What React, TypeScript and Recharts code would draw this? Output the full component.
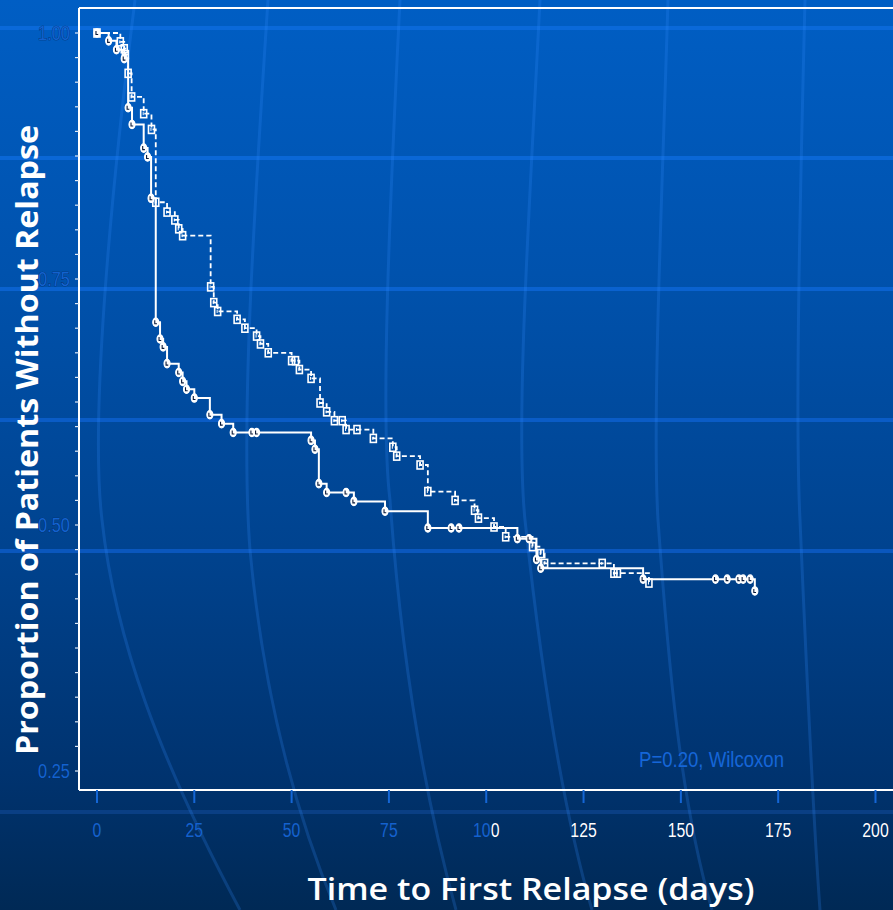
import React from 'react';
import { LineChart, Line, XAxis, YAxis, ReferenceLine, Customized } from 'recharts';

// ---- Data ----
const solidTimes = [0, 3, 5, 7, 8, 9, 12, 13, 13.9, 15.1, 16.2, 17, 18, 21, 22, 23, 25, 29, 32, 35, 39.8, 41, 55, 56, 57, 59, 64, 66, 74, 85, 91, 93, 108, 111, 112.9, 114, 140.3, 158.9, 161.9, 164.9, 166, 167.8, 169];
const solidSurv = [1.0, 0.992, 0.983, 0.974, 0.924, 0.907, 0.883, 0.874, 0.832, 0.706, 0.689, 0.681, 0.664, 0.655, 0.646, 0.638, 0.629, 0.612, 0.603, 0.594, 0.594, 0.594, 0.586, 0.577, 0.542, 0.533, 0.533, 0.524, 0.514, 0.497, 0.497, 0.497, 0.486, 0.486, 0.465, 0.456, 0.445, 0.445, 0.445, 0.445, 0.445, 0.445, 0.433];

const dashedTimes = [0, 6, 7, 7.3, 8, 8.9, 12, 14, 15.1, 18, 20, 21, 22, 29.2, 30, 31, 36, 38, 41, 42, 44, 50, 51, 52, 55, 57.3, 59, 61, 63, 64, 66.8, 71, 76, 77, 83, 85, 92, 97, 98, 102, 105, 111.9, 114, 115, 129.8, 132.8, 133.7, 141.8];
const dashedSurv = [1.0, 0.991, 0.984, 0.978, 0.959, 0.935, 0.918, 0.902, 0.828, 0.818, 0.81, 0.801, 0.794, 0.742, 0.726, 0.717, 0.709, 0.7, 0.692, 0.684, 0.675, 0.667, 0.667, 0.658, 0.649, 0.624, 0.615, 0.606, 0.606, 0.597, 0.597, 0.588, 0.579, 0.57, 0.561, 0.534, 0.525, 0.515, 0.507, 0.498, 0.488, 0.478, 0.471, 0.461, 0.461, 0.451, 0.451, 0.441];

const xTicks = [0, 25, 50, 75, 100, 125, 150, 175, 200];
const yLabelTicks = [0.25, 0.5, 0.75, 1.0];
const yMinorTicks = Array.from({ length: 31 }, (_, i) => Math.round((0.25 + i * 0.025) * 1000) / 1000);

const xTitle = 'Time to First Relapse (days)';
const yTitle = 'Proportion of Patients Without Relapse';
const pText = 'P=0.20, Wilcoxon';

const X_DOMAIN: [number, number] = [-4.62, 204.5];
const Y_DOMAIN: [number, number] = [0.2307, 1.0254];

const solidData = solidTimes.map((t, i) => ({ t, s: solidSurv[i] }));
const dashedData = dashedTimes.map((t, i) => ({ t, s: dashedSurv[i] }));

const W = 893;
const H = 910;
const NARROW = "'Liberation Sans', Arial, sans-serif";
const TITLE_FONT = "'Open Sans', Lato, sans-serif";

const numLen = (s: string) => {
  let w = 0;
  for (const ch of s) w += ch === '.' ? 5.5 : 8.8;
  return w;
};

const CircleDot = (props: any) => {
  const { cx, cy, index } = props;
  if (cx == null || cy == null) return <g key={`c-${index}`} />;
  return (
    <g key={`c-${index}`}>
      <ellipse cx={cx} cy={cy} rx={3} ry={4.2} fill="#ffffff" stroke="#ffffff" strokeWidth={1.2} />
      <path d={`M${cx - 1},${cy - 2} L${cx - 1},${cy + 1.5} L${cx + 1.2},${cy + 1.5}`} stroke="#0a1a3a" strokeWidth={1.1} fill="none" />
    </g>
  );
};

const SquareDot = (props: any) => {
  const { cx, cy, index } = props;
  if (cx == null || cy == null) return <g key={`s-${index}`} />;
  return (
    <g key={`s-${index}`}>
      <rect x={cx - 3} y={cy - 4} width={6} height={8} fill="none" stroke="#ffffff" strokeWidth={1.6} />
      <path d={`M${cx - 0.5},${cy - 1.5} L${cx - 0.5},${cy + 1.5}`} stroke="#ffffff" strokeWidth={1} />
    </g>
  );
};

const XTick = (props: any) => {
  const { x, y, payload } = props;
  const s = String(payload.value);
  return (
    <text x={x} y={y} dy="0.71em" textAnchor="middle" fontFamily={NARROW} fontSize={20}
      textLength={numLen(s)} lengthAdjust="spacingAndGlyphs"
      fill="url(#xTickGrad)" stroke="#0b2a55" strokeWidth={0.7} paintOrder="stroke">
      {s}
    </text>
  );
};

const YTick = (props: any) => {
  const { x, y, payload } = props;
  const v = payload.value;
  const show = yLabelTicks.some((t) => Math.abs(t - v) < 1e-6);
  if (!show) return <g />;
  const s = v.toFixed(2);
  return (
    <text x={x} y={y} dy="0.36em" textAnchor="end" fontFamily={NARROW} fontSize={20}
      textLength={numLen(s)} lengthAdjust="spacingAndGlyphs"
      fill="#1262cf" stroke="#072b5e" strokeWidth={0.7} paintOrder="stroke">
      {s}
    </text>
  );
};

const Decorations = () => (
  <g>
    <defs>
      <linearGradient id="xTickGrad" gradientUnits="userSpaceOnUse" x1={0} y1={0} x2={W} y2={0}>
        <stop offset="0.549" stopColor="#1262cf" />
        <stop offset="0.551" stopColor="#ffffff" />
      </linearGradient>
    </defs>
    <text x={639} y={767} fontFamily={NARROW} fontSize={22} textLength={145} lengthAdjust="spacingAndGlyphs"
      fill="#1466d8" stroke="#0b3572" strokeWidth={0.6} paintOrder="stroke">
      {pText}
    </text>
    <text x={531} y={900} textAnchor="middle" fontFamily={TITLE_FONT} fontWeight={600} fontSize={30}
      textLength={447} lengthAdjust="spacingAndGlyphs" fill="#ffffff">
      {xTitle}
    </text>
    <text x={38} y={440} textAnchor="middle" transform="rotate(-90 38 440)" fontFamily={TITLE_FONT} fontWeight={700} fontSize={31}
      textLength={630} lengthAdjust="spacingAndGlyphs" fill="#ffffff">
      {yTitle}
    </text>
  </g>
);

const hLines = [
  { y: 28, c: '#0a69d9' },
  { y: 158, c: '#0a67d6' },
  { y: 289, c: '#0a62cf' },
  { y: 420, c: '#0a5cc6' },
  { y: 551, c: '#0a57bd' },
  { y: 812, c: '#0a3f84' },
];

const curves = [
  'M135,0 C110,200 90,420 102,520 C115,640 160,760 240,910',
  'M268,0 C255,200 240,420 250,550 C262,680 290,800 336,910',
  'M400,0 C390,200 380,420 390,500 C400,640 420,780 456,910',
  'M540,0 C530,200 515,420 525,520 C540,660 560,800 592,910',
  'M668,0 C662,200 652,420 658,520 C668,660 680,800 712,910',
  'M805,0 C800,200 795,420 800,520 C806,660 812,800 820,910',
];

export default function App() {
  return (
    <div style={{ position: 'fixed', left: 0, top: 0, width: W, height: H, overflow: 'hidden',
      background: 'linear-gradient(to bottom, #005ec4 0%, #0052ad 30%, #00438f 60%, #00336f 85%, #002955 100%)' }}>
      <svg width={W} height={H} style={{ position: 'absolute', left: 0, top: 0 }}>
        {hLines.map((l) => (
          <rect key={l.y} x={0} y={l.y - 2} width={W} height={4} fill={l.c} />
        ))}
        {curves.map((d, i) => (
          <path key={i} d={d} fill="none" stroke="rgba(50,140,255,0.22)" strokeWidth={3} />
        ))}
      </svg>
      <div style={{ position: 'absolute', left: 0, top: 0 }}>
        <LineChart width={W} height={H} margin={{ top: 8, right: 0, bottom: 0, left: 0 }}>
          <XAxis type="number" dataKey="t" domain={X_DOMAIN} ticks={xTicks} allowDataOverflow
            height={120} axisLine={{ stroke: '#ffffff', strokeWidth: 2 }}
            tickLine={{ stroke: '#1466d6', strokeWidth: 2 }} tickSize={13} tickMargin={20} tick={<XTick />} interval={0} />
          <YAxis type="number" dataKey="s" domain={Y_DOMAIN} ticks={yMinorTicks} allowDataOverflow
            width={79} axisLine={{ stroke: '#ffffff', strokeWidth: 2 }}
            tickLine={{ stroke: '#dfe8f5', strokeWidth: 1.2 }} tickSize={4} tickMargin={5} tick={<YTick />} interval={0} />
          <ReferenceLine y={Y_DOMAIN[1]} stroke="#ffffff" strokeWidth={2} />
          <Line data={dashedData} dataKey="s" type="stepAfter" stroke="#ffffff" strokeWidth={1.8}
            strokeDasharray="5 3" dot={<SquareDot />} activeDot={false} isAnimationActive={false} />
          <Line data={solidData} dataKey="s" type="stepAfter" stroke="#ffffff" strokeWidth={2}
            dot={<CircleDot />} activeDot={false} isAnimationActive={false} />
          <Customized component={Decorations} />
        </LineChart>
      </div>
    </div>
  );
}
